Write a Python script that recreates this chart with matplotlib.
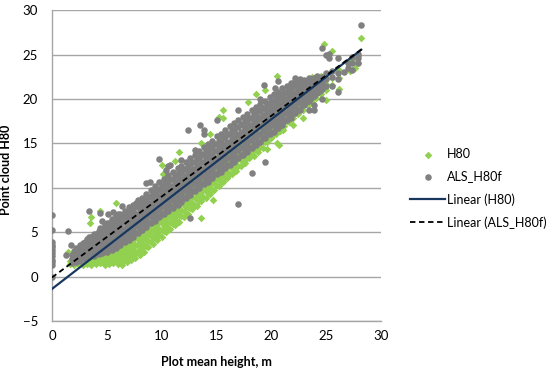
import matplotlib.pyplot as plt

# ALS_H80f (grey circles), grouped by plot mean height: (x, [y values])
als_cols = [
    (0.0, [0.0, 1.3, 1.6, 1.9, 2.3, 2.6, 3.0, 3.3, 3.6, 3.9, 5.3, 6.9]),
    (1.3, [2.4]),
    (1.5, [5.1]),
    (1.7, [3.5]),
    (1.8, [1.5, 2.0, 2.4]),
    (2.0, [1.8, 2.4, 2.9]),
    (2.2, [1.6, 2.1, 2.7, 3.2]),
    (2.4, [1.9, 2.5, 3.1]),
    (2.6, [1.8, 2.4, 3.0, 3.6]),
    (2.8, [2.1, 2.7, 3.3, 3.8]),
    (3.05, [2.0, 2.6, 3.3, 3.9]),
    (3.2, [2.3, 2.9, 3.6, 4.2]),
    (3.4, [2.2, 2.8, 3.5, 4.1, 4.5, 7.4]),
    (3.6, [2.5, 3.2, 3.9, 4.5]),
    (3.8, [2.3, 3.0, 3.6, 4.3, 4.8]),
    (4.0, [2.7, 3.4, 4.1, 4.8]),
    (4.25, [2.5, 3.2, 3.9, 4.5, 5.1]),
    (4.4, [2.8, 3.5, 4.2, 4.9, 5.5, 7.2]),
    (4.6, [2.7, 3.4, 4.1, 4.7, 5.4, 6.3]),
    (4.8, [3.1, 3.8, 4.5, 5.2, 5.8]),
    (5.0, [2.8, 3.5, 4.2, 4.9, 5.6, 6.0]),
    (5.1, [7.0]),
    (5.2, [3.2, 3.9, 4.6, 5.3, 6.0]),
    (5.45, [3.0, 3.7, 4.5, 5.2, 5.9, 6.5]),
    (5.6, [3.4, 4.1, 4.8, 5.5, 6.2, 7.3]),
    (5.8, [3.2, 4.0, 4.7, 5.4, 6.1, 6.8]),
    (6.0, [3.6, 4.4, 5.1, 5.8, 6.5, 7.1]),
    (6.2, [3.5, 4.3, 5.0, 5.7, 6.4, 7.1]),
    (6.35, [7.9]),
    (6.4, [4.0, 4.7, 5.4, 6.1, 6.8]),
    (6.65, [3.9, 4.6, 5.4, 6.1, 6.8, 7.4]),
    (6.8, [4.3, 5.0, 5.8, 6.5, 7.2]),
    (7.0, [4.1, 4.9, 5.6, 6.3, 7.0, 7.8]),
    (7.2, [4.5, 5.3, 6.0, 6.7, 7.4]),
    (7.4, [4.5, 5.3, 6.0, 6.7, 7.4, 8.1]),
    (7.6, [4.9, 5.7, 6.4, 7.1, 7.8]),
    (7.7, [8.3]),
    (7.85, [4.9, 5.7, 6.4, 7.1, 7.9, 8.6]),
    (8.0, [5.2, 6.0, 6.8, 7.5, 8.3]),
    (8.2, [5.2, 6.0, 6.8, 7.5, 8.2, 8.9]),
    (8.4, [5.6, 6.4, 7.2, 7.9, 8.6]),
    (8.6, [5.6, 6.4, 7.2, 7.9, 8.6, 9.3, 10.5]),
    (8.8, [6.0, 6.8, 7.6, 8.3, 9.0]),
    (8.9, [10.7]),
    (9.05, [6.0, 6.8, 7.6, 8.3, 9.1, 9.8]),
    (9.2, [6.4, 7.2, 8.0, 8.7, 9.5]),
    (9.4, [6.3, 7.1, 7.9, 8.7, 9.4, 10.2]),
    (9.6, [6.7, 7.5, 8.3, 9.1, 9.8]),
    (9.8, [6.7, 7.5, 8.3, 9.1, 9.9, 10.6, 13.2]),
    (10.0, [7.1, 7.9, 8.7, 9.5, 10.3]),
    (10.2, [7.0, 7.9, 8.7, 9.5, 10.2, 11.0]),
    (10.4, [7.4, 8.3, 9.1, 9.9, 10.7, 12.0]),
    (10.6, [7.4, 8.2, 9.0, 9.8, 10.6, 11.4, 12.4]),
    (10.8, [7.8, 8.6, 9.4, 10.2, 11.0, 12.6]),
    (11.0, [7.7, 8.6, 9.4, 10.2, 11.0, 11.8]),
    (11.2, [8.2, 9.0, 9.8, 10.6, 11.4]),
    (11.45, [8.1, 9.0, 9.8, 10.6, 11.4, 12.2]),
    (11.6, [8.5, 9.4, 10.2, 11.0, 11.8]),
    (11.8, [8.4, 9.3, 10.1, 10.9, 11.8, 12.5, 13.1]),
    (12.0, [8.9, 9.7, 10.5, 11.3, 12.1]),
    (12.2, [8.8, 9.7, 10.5, 11.3, 12.1, 12.9]),
    (12.4, [9.3, 10.1, 10.9, 11.7, 12.5, 16.5]),
    (12.6, [6.6, 9.2, 10.1, 10.9, 11.7, 12.5, 13.3]),
    (12.8, [9.6, 10.5, 11.3, 12.1, 12.9]),
    (13.0, [9.6, 10.4, 11.3, 12.1, 12.9, 13.7, 14.3]),
    (13.2, [10.0, 10.9, 11.7, 12.5, 13.3]),
    (13.4, [10.0, 10.8, 11.7, 12.5, 13.3, 14.1]),
    (13.5, [17.1]),
    (13.6, [10.4, 11.3, 12.1, 12.9, 13.7]),
    (13.85, [10.4, 11.2, 12.1, 12.9, 13.8, 14.6, 16.1, 16.5]),
    (14.0, [10.8, 11.6, 12.5, 13.3, 14.1]),
    (14.2, [10.7, 11.6, 12.5, 13.3, 14.1, 14.9]),
    (14.4, [11.1, 12.0, 12.9, 13.7, 14.5]),
    (14.6, [11.1, 12.0, 12.8, 13.7, 14.5, 15.3]),
    (14.8, [11.5, 12.4, 13.2, 14.1, 14.9]),
    (15.05, [11.5, 12.4, 13.3, 14.1, 14.9, 15.8, 17.6]),
    (15.2, [11.9, 12.8, 13.6, 14.5, 15.3]),
    (15.4, [11.8, 12.7, 13.6, 14.4, 15.3, 16.1]),
    (15.6, [12.2, 13.1, 14.0, 14.8, 15.7]),
    (15.8, [12.2, 13.1, 14.0, 14.8, 15.7, 16.5]),
    (16.0, [12.6, 13.5, 14.4, 15.2, 16.1]),
    (16.25, [12.6, 13.5, 14.4, 15.2, 16.1, 16.9]),
    (16.4, [13.0, 13.9, 14.8, 15.6, 16.5]),
    (16.6, [12.9, 13.8, 14.7, 15.6, 16.4, 17.3]),
    (16.8, [13.3, 14.2, 15.1, 16.0, 16.8]),
    (17.0, [8.2, 13.3, 14.2, 15.1, 15.9, 16.8, 17.6, 18.8]),
    (17.2, [13.7, 14.6, 15.5, 16.3, 17.2]),
    (17.4, [13.7, 14.6, 15.4, 16.3, 17.1, 18.0]),
    (17.6, [14.1, 15.0, 15.9, 16.7, 17.6]),
    (17.8, [14.0, 14.9, 15.8, 16.7, 17.5, 18.3]),
    (18.0, [14.5, 15.4, 16.2, 17.1, 17.9]),
    (18.25, [11.7, 14.5, 15.4, 16.2, 17.1, 17.9, 18.7]),
    (18.4, [14.8, 15.7, 16.6, 17.5, 18.3]),
    (18.6, [14.8, 15.7, 16.6, 17.4, 18.3, 19.1]),
    (18.8, [15.2, 16.1, 17.0, 17.8, 18.7]),
    (19.0, [15.2, 16.1, 16.9, 17.8, 18.6, 19.4, 20.0]),
    (19.2, [15.6, 16.5, 17.3, 18.2, 19.0]),
    (19.3, [21.6]),
    (19.4, [12.9, 15.6, 16.4, 17.3, 18.1, 19.0, 19.8]),
    (19.6, [16.0, 16.8, 17.7, 18.5, 19.4]),
    (19.85, [16.0, 16.9, 17.7, 18.6, 19.4, 20.2]),
    (20.0, [16.3, 17.2, 18.1, 18.9, 19.7]),
    (20.2, [16.3, 17.2, 18.0, 18.9, 19.7, 20.5]),
    (20.3, [21.2]),
    (20.4, [16.7, 17.6, 18.4, 19.3, 20.1]),
    (20.6, [16.7, 17.6, 18.4, 19.2, 20.0, 20.8, 22.0]),
    (20.8, [17.1, 18.0, 18.8, 19.6, 20.4]),
    (21.0, [17.1, 18.0, 18.8, 19.6, 20.4, 21.2]),
    (21.2, [17.5, 18.4, 19.2, 20.0, 20.8]),
    (21.45, [17.6, 18.4, 19.2, 20.0, 20.8, 21.5]),
    (21.6, [18.0, 18.8, 19.6, 20.4, 21.1]),
    (21.8, [17.9, 18.8, 19.6, 20.4, 21.1, 21.8]),
    (22.0, [18.4, 19.2, 20.0, 20.7, 21.4]),
    (22.2, [18.4, 19.2, 20.0, 20.7, 21.4, 22.0, 22.4]),
    (22.4, [18.8, 19.6, 20.3, 21.0, 21.7]),
    (22.6, [18.8, 19.6, 20.3, 21.0, 21.7, 22.2]),
    (22.8, [19.3, 20.0, 20.7, 21.4]),
    (23.0, [19.3, 20.1, 20.8, 21.5, 22.1]),
    (23.2, [19.7, 20.4, 21.1, 21.8]),
    (23.4, [18.7, 19.8, 20.5, 21.2, 21.8, 22.4]),
    (23.6, [20.1, 20.8, 21.5, 22.1]),
    (23.85, [18.8, 19.3, 20.3, 21.0, 21.6, 22.3]),
    (24.0, [20.5, 21.2, 21.8, 22.4]),
    (24.2, [20.7, 21.4, 22.0, 22.6]),
    (24.4, [20.9, 21.5, 22.2]),
    (24.6, [20.0, 21.1, 21.8, 22.5, 25.7]),
    (25.0, [21.5, 22.2, 22.9, 25.0]),
    (25.3, [24.6, 25.1]),
    (25.5, [21.5, 22.5, 23.2]),
    (26.1, [20.8, 22.2, 22.9, 24.6]),
    (26.6, [23.0]),
    (27.0, [23.5, 24.1]),
    (27.4, [23.3, 24.0, 24.7]),
    (27.9, [24.0, 24.6, 25.1]),
    (28.2, [28.3]),
]

# H80 (green diamonds)
h80_cols = [
    (1.5, [2.8]),
    (1.6, [1.4, 1.8]),
    (1.8, [1.6, 2.0]),
    (2.0, [1.3, 1.7, 2.2]),
    (2.2, [1.5, 1.9, 2.4]),
    (2.4, [1.4, 1.9, 2.4]),
    (2.6, [1.6, 2.1, 2.6]),
    (2.8, [1.3, 1.8, 2.3, 2.9]),
    (3.0, [1.6, 2.1, 2.7]),
    (3.2, [1.4, 1.9, 2.5, 3.1, 3.6]),
    (3.4, [1.6, 2.2, 2.8]),
    (3.5, [6.0]),
    (3.6, [1.3, 1.8, 2.4, 3.0, 3.5, 6.7]),
    (3.8, [1.6, 2.1, 2.7]),
    (4.0, [1.4, 2.0, 2.6, 3.2, 4.3]),
    (4.2, [1.7, 2.3, 2.9]),
    (4.4, [1.5, 2.1, 2.7, 3.3, 7.4]),
    (4.6, [1.6, 2.2, 2.8]),
    (4.8, [1.3, 1.9, 2.5, 3.1, 3.7]),
    (5.0, [1.6, 2.2, 2.8]),
    (5.2, [1.4, 2.0, 2.6, 3.2, 3.9]),
    (5.4, [1.7, 2.3, 2.9]),
    (5.6, [1.5, 2.1, 2.8, 3.5, 4.2]),
    (5.8, [1.7, 2.4, 3.1, 8.3]),
    (6.0, [1.4, 2.0, 2.7, 3.4, 4.1]),
    (6.2, [1.6, 2.3, 3.0]),
    (6.4, [1.3, 2.0, 2.7, 3.4, 4.1, 4.8]),
    (6.6, [1.9, 2.6, 3.3, 4.0]),
    (6.8, [1.6, 2.3, 3.0, 3.7, 4.4, 5.1]),
    (7.0, [2.2, 2.9, 3.6, 4.3]),
    (7.2, [1.9, 2.6, 3.3, 4.0, 4.7, 5.4]),
    (7.4, [2.4, 3.1, 3.8, 4.5]),
    (7.6, [2.1, 2.9, 3.6, 4.3, 5.0, 5.8]),
    (7.8, [2.7, 3.5, 4.2, 4.9]),
    (8.0, [2.4, 3.2, 3.9, 4.6, 5.4, 6.1]),
    (8.2, [3.0, 3.8, 4.5, 5.2]),
    (8.4, [2.8, 3.6, 4.3, 5.0, 5.8, 6.5]),
    (8.6, [3.4, 4.2, 4.9, 5.6]),
    (8.8, [3.3, 4.0, 4.8, 5.5, 6.2, 6.9]),
    (9.0, [3.9, 4.6, 5.3, 6.0]),
    (9.2, [3.7, 4.5, 5.2, 5.9, 6.6, 7.3]),
    (9.4, [4.3, 5.0, 5.7, 6.4]),
    (9.6, [4.1, 4.9, 5.6, 6.3, 7.0, 7.7]),
    (9.8, [4.7, 5.4, 6.1, 6.8]),
    (10.0, [4.5, 5.3, 6.0, 6.7, 7.4, 8.1, 12.6]),
    (10.1, [11.6]),
    (10.2, [5.1, 5.8, 6.5, 7.2]),
    (10.4, [5.0, 5.7, 6.4, 7.1, 7.8, 8.5, 11.4]),
    (10.6, [5.5, 6.2, 6.9, 7.6]),
    (10.8, [5.4, 6.1, 6.8, 7.5, 8.2, 8.9]),
    (11.0, [5.9, 6.6, 7.3, 8.0]),
    (11.2, [5.8, 6.5, 7.2, 7.9, 8.6, 9.3, 13.0]),
    (11.4, [6.3, 7.0, 7.7, 8.4]),
    (11.6, [6.2, 6.9, 7.6, 8.3, 9.0, 9.7, 14.0]),
    (11.8, [6.8, 7.5, 8.2, 8.9]),
    (12.0, [6.7, 7.4, 8.1, 8.8, 9.5, 10.2]),
    (12.2, [7.2, 7.9, 8.6, 9.3]),
    (12.4, [7.1, 7.8, 8.5, 9.2, 9.9, 10.6]),
    (12.6, [7.7, 8.4, 9.1, 9.8]),
    (12.8, [7.6, 8.3, 9.0, 9.7, 10.4, 11.1]),
    (13.0, [8.1, 8.8, 9.5, 10.2]),
    (13.2, [8.0, 8.7, 9.4, 10.1, 10.8, 11.5]),
    (13.4, [8.5, 9.2, 9.9, 10.6]),
    (13.6, [6.6, 8.5, 9.2, 9.9, 10.6, 11.3, 12.0, 15.0]),
    (13.8, [9.0, 9.7, 10.4, 11.1]),
    (14.0, [8.9, 9.6, 10.3, 11.0, 11.7, 12.4]),
    (14.2, [9.4, 10.1, 10.8, 11.5]),
    (14.4, [9.3, 10.0, 10.7, 11.4, 12.1, 12.8, 16.0]),
    (14.6, [9.8, 10.5, 11.2, 11.9]),
    (14.7, [8.6]),
    (14.8, [9.8, 10.5, 11.2, 11.9, 12.6, 13.3]),
    (15.0, [10.3, 11.0, 11.7, 12.4]),
    (15.2, [10.2, 10.9, 11.6, 12.3, 13.0, 13.7, 18.0]),
    (15.4, [10.7, 11.4, 12.1, 12.8]),
    (15.6, [10.6, 11.3, 12.0, 12.7, 13.4, 14.1, 17.8, 18.8]),
    (15.8, [11.1, 11.8, 12.5, 13.2]),
    (16.0, [11.1, 11.8, 12.5, 13.2, 13.9, 14.6]),
    (16.2, [11.6, 12.3, 13.0, 13.7]),
    (16.4, [11.5, 12.2, 12.9, 13.6, 14.3, 15.0]),
    (16.6, [12.0, 12.7, 13.4, 14.1]),
    (16.8, [11.9, 12.6, 13.3, 14.0, 14.7, 15.4]),
    (17.0, [12.5, 13.2, 13.9, 14.6]),
    (17.2, [12.4, 13.1, 13.8, 14.5, 15.2, 15.9]),
    (17.4, [12.9, 13.6, 14.3, 15.0]),
    (17.6, [12.8, 13.5, 14.2, 14.9, 15.6, 16.3]),
    (17.8, [13.4, 14.1, 14.8, 15.5]),
    (17.9, [19.7]),
    (18.0, [13.3, 14.0, 14.7, 15.4, 16.1, 16.8]),
    (18.2, [13.8, 14.5, 15.2, 15.9]),
    (18.4, [13.6, 14.4, 15.1, 15.8, 16.5, 17.2]),
    (18.6, [14.2, 14.9, 15.6, 16.3, 20.6]),
    (18.8, [14.0, 14.8, 15.5, 16.2, 16.9, 17.6]),
    (19.0, [14.6, 15.4, 16.1, 16.8]),
    (19.2, [14.5, 15.3, 16.0, 16.7, 17.4, 18.1]),
    (19.4, [15.1, 15.9, 16.6, 17.3, 21.0]),
    (19.6, [14.4, 15.1, 15.8, 16.5, 17.2, 17.9, 18.6]),
    (19.8, [15.6, 16.3, 17.0, 17.7]),
    (20.0, [15.6, 16.3, 17.0, 17.7, 18.4, 19.1]),
    (20.2, [16.1, 16.8, 17.5, 18.2]),
    (20.4, [16.0, 16.7, 17.4, 18.1, 18.8, 19.5]),
    (20.5, [15.0, 22.6]),
    (20.6, [16.5, 17.2, 17.9, 18.6]),
    (20.7, [14.8]),
    (20.8, [16.4, 17.1, 17.8, 18.5, 19.2, 19.9]),
    (21.0, [17.0, 17.7, 18.4, 19.1]),
    (21.1, [16.5]),
    (21.2, [16.9, 17.6, 18.3, 19.0, 19.7, 20.4]),
    (21.4, [17.5, 18.2, 18.9, 19.6]),
    (21.6, [17.4, 18.1, 18.8, 19.5, 20.2, 20.9]),
    (21.8, [18.0, 18.7, 19.4, 20.1]),
    (22.0, [17.1, 17.9, 18.6, 19.3, 20.0, 20.7, 21.4]),
    (22.2, [18.4, 19.1, 19.8, 20.5]),
    (22.4, [18.3, 19.0, 19.7, 20.4, 21.1, 21.8]),
    (22.6, [18.9, 19.6, 20.3, 21.0]),
    (22.9, [17.8, 18.8, 19.5, 20.2, 20.9, 21.6]),
    (23.0, [19.4, 20.1, 20.8]),
    (23.3, [19.3, 20.0, 20.7, 21.4, 22.1]),
    (23.5, [19.8, 20.5, 21.2]),
    (23.7, [19.7, 20.4, 21.1, 21.8, 22.5]),
    (23.9, [20.2, 20.9, 21.6]),
    (24.1, [20.1, 20.8, 21.5, 22.2]),
    (24.5, [20.5, 21.2, 21.9, 22.6]),
    (24.8, [26.2]),
    (25.0, [19.9, 21.0, 21.7, 22.4]),
    (25.5, [21.6, 22.3, 25.4]),
    (26.2, [21.1, 22.3, 23.3]),
    (27.2, [23.1, 24.4]),
    (27.6, [23.5, 24.3]),
    (27.9, [24.0, 24.8]),
    (28.2, [26.9]),
]

# linear trend lines: (slope, intercept)
trend_h80 = (0.955, -1.39)
trend_als = (0.91, -0.1)
trend_x = [0.0, 28.2]


def flatten(cols):
    xs, ys = [], []
    for x, vals in cols:
        for v in vals:
            xs.append(x)
            ys.append(v)
    return xs, ys


h80_x, h80_y = flatten(h80_cols)
als_x, als_y = flatten(als_cols)

plt.rcParams["font.family"] = ["Lato", "DejaVu Sans"]

fig = plt.figure(figsize=(5.5, 3.74), dpi=100)
ax = fig.add_axes([0.0945, 0.1417, 0.5982, 0.8313])

ax.scatter(h80_x, h80_y, marker="D", s=15, color="#92D050", linewidths=0,
           label="H80", zorder=2)
ax.scatter(als_x, als_y, marker="o", s=22, color="#808080", linewidths=0,
           label="ALS_H80f", zorder=3)

m, b = trend_h80
ax.plot(trend_x, [m * x + b for x in trend_x], color="#17375E", lw=1.6,
        label="Linear (H80)", zorder=4)
m, b = trend_als
ax.plot(trend_x, [m * x + b for x in trend_x], color="black", lw=1.3,
        ls=(0, (3, 2)), label="Linear (ALS_H80f)", zorder=5)

ax.set_xlim(0, 30)
ax.set_ylim(-5, 30)
ax.set_xticks(range(0, 31, 5))
ax.set_yticks(range(-5, 31, 5))
ax.tick_params(length=0, labelsize=9.5, colors="black")
ax.tick_params(axis="y", pad=10)
ax.tick_params(axis="x", pad=6.5)
ax.grid(axis="y", color="#A6A6A6", lw=1)
ax.set_axisbelow(True)
for s in ["top", "right"]:
    ax.spines[s].set_visible(False)
for s in ["left", "bottom"]:
    ax.spines[s].set_color("#A6A6A6")
    ax.spines[s].set_linewidth(1)

ax.set_xlabel("Plot mean height, m", fontsize=9, fontweight="bold", labelpad=10)
ax.set_ylabel("Point cloud H80", fontsize=9, fontweight="bold")
ax.yaxis.set_label_coords(-0.12, 0.486)

fig.legend(loc="upper left", bbox_to_anchor=(0.7364, 0.618), frameon=False,
           borderaxespad=0, fontsize=9, handlelength=2.8, labelspacing=0.85,
           handletextpad=0.15)

fig.savefig("out.png", dpi=100)
